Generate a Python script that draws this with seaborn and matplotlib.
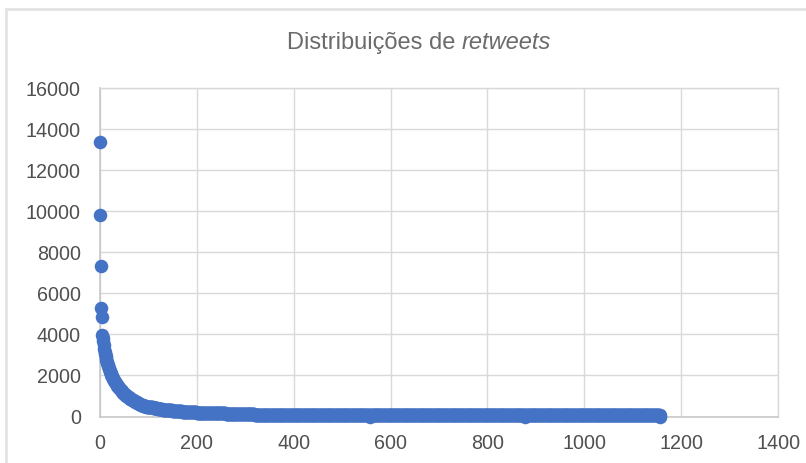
import numpy as np
import pandas as pd
import matplotlib
matplotlib.use("Agg")
import matplotlib.pyplot as plt
import seaborn as sns
from matplotlib.patches import Rectangle

title_main = "Distribuições de "
title_italic = "retweets"

# Top of the distribution (retweets, sorted descending), read point by point
head_values = [
    13374, 9819, 7325, 5306, 4865, 3956, 3850, 3700, 3500, 3300,
    3150, 3050, 2950, 2850, 2760, 2680, 2600, 2520, 2440, 2370,
    2300, 2230, 2160, 2100, 2040, 1985, 1930, 1880, 1830, 1785,
    1740, 1700, 1660, 1620, 1580, 1545, 1510, 1475, 1440, 1410,
    1380, 1350, 1320, 1295, 1270, 1245, 1220, 1195, 1170, 1145,
    1120, 1100, 1080, 1060, 1040, 1020, 1000, 982, 964, 946,
    928, 910, 893, 876, 860, 844, 828, 813, 798, 783,
    768, 754, 740, 727, 714, 701, 688, 676, 664, 652,
    640, 629, 618, 607, 596, 585, 575, 565, 555, 545,
    535, 526, 517, 508, 499, 490, 482, 474, 466, 458,
]
# Long tail, read as runs of (value, number of points)
tail_levels = [440, 400, 360, 330, 305, 280, 255, 230, 205, 180, 155, 130, 100, 80, 60, 0, 60, 0, 50, 0]
tail_counts = [10, 10, 10, 10, 10, 10, 10, 10, 20, 30, 30, 20, 40, 80, 157, 1, 319, 1, 278, 1]

x_ticks = [0, 200, 400, 600, 800, 1000, 1200, 1400]
y_ticks = [0, 2000, 4000, 6000, 8000, 10000, 12000, 14000, 16000]

values = list(head_values)
for lv, ct in zip(tail_levels, tail_counts):
    values.extend([lv] * ct)
df = pd.DataFrame({"idx": np.arange(len(values)), "retweets": values})

sns.set_style("white")
plt.rcParams["font.family"] = ["Liberation Sans", "DejaVu Sans"]

W, H = 806, 463
fig = plt.figure(figsize=(W / 100, H / 100), dpi=100)
ax = fig.add_axes([99.7 / W, 1 - 416.5 / H, (778.3 - 99.7) / W, (416.5 - 88.3) / H])

sns.scatterplot(data=df, x="idx", y="retweets", ax=ax, color="#4472C4",
                s=95, linewidth=0, clip_on=False, zorder=3, legend=False)

ax.set_xlim(0, 1400)
ax.set_ylim(0, 16000)
ax.set_xticks(x_ticks)
ax.set_yticks(y_ticks)
ax.set_xticklabels([str(t) for t in x_ticks])
ax.set_yticklabels([str(t) for t in y_ticks])
ax.set_xlabel("")
ax.set_ylabel("")
ax.grid(True, color="#d9d9d9", linewidth=1.0)
ax.set_axisbelow(True)
for side in ["top", "right"]:
    ax.spines[side].set_visible(True)
    ax.spines[side].set_color("#d9d9d9")
    ax.spines[side].set_linewidth(1.0)
for side in ["left", "bottom"]:
    ax.spines[side].set_color("#c8c8c8")
    ax.spines[side].set_linewidth(1.2)
ax.tick_params(axis="both", length=0, labelsize=14.2, labelcolor="#505050")
ax.tick_params(axis="y", pad=13.5)
ax.tick_params(axis="x", pad=12.5)

# Title: regular part + italic part
t1 = fig.text(0, 1 - 49 / H, title_main, fontsize=17, color="#6b6b6b", ha="left", va="baseline")
t2 = fig.text(0, 1 - 49 / H, title_italic, fontsize=17, color="#6b6b6b", style="italic",
              ha="left", va="baseline")
fig.canvas.draw()
r = fig.canvas.get_renderer()
w1 = t1.get_window_extent(r).width
w2 = t2.get_window_extent(r).width
start = 419 - (w1 + w2) / 2
t1.set_x(start / W)
t2.set_x((start + w1) / W)

# Outer chart frame
fig.patches.append(Rectangle((6 / W, -0.1), 1.2, 1 - 9 / H + 0.1, transform=fig.transFigure,
                             fill=False, edgecolor="#e3e3e3", linewidth=2.0))

fig.savefig("out.png", dpi=100)
